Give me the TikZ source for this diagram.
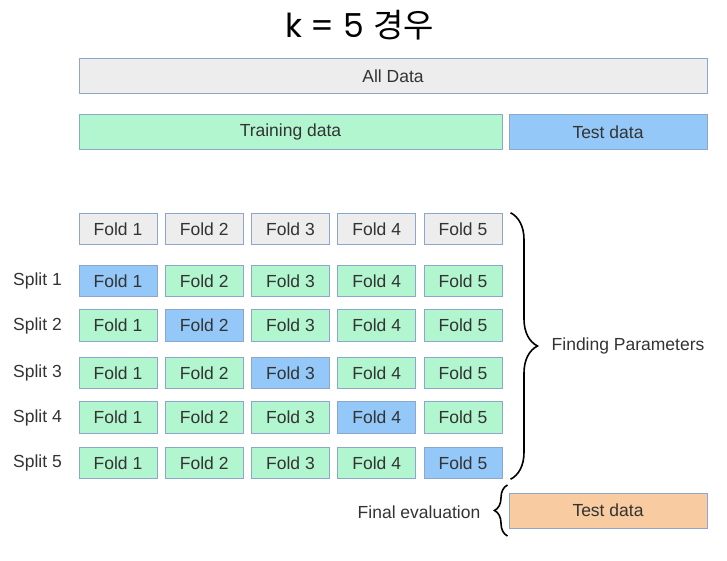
\documentclass[tikz,border=0pt]{standalone}
\usepackage{fontspec}
\setmainfont{Liberation Sans}
\newfontfamily\titlefont{Poppins}
\newfontfamily\krfont{Noto Sans CJK KR}
\usetikzlibrary{decorations.pathreplacing}
\definecolor{inkGrey}{RGB}{51,51,51}
\definecolor{edgeBlue}{RGB}{140,166,206}
\definecolor{boxGrey}{RGB}{237,237,237}
\definecolor{boxGreen}{RGB}{178,246,208}
\definecolor{boxBlue}{RGB}{148,200,248}
\definecolor{boxOrange}{RGB}{248,204,160}

\begin{document}
\begin{tikzpicture}[x=1pt,y=-1pt,
    font=\fontsize{17.5}{20}\selectfont,text=inkGrey,
    bar/.style={draw=edgeBlue,line width=1pt,minimum height=35pt,inner sep=0pt},
    fold/.style={draw=edgeBlue,line width=1pt,minimum width=78pt,minimum height=31.5pt,inner sep=0pt},
    lbl/.style={inner sep=0pt},
    curly/.style={decorate,line width=1.6pt,draw=black}]
    \useasboundingbox (0,0) rectangle (727,561);

    % heading
    \node[lbl,anchor=base,text=black,font=\fontsize{33}{40}\selectfont] (title) at (359.5,38)
      {\titlefont k = 5 \krfont 경우};

    % data split bars
    \node[bar,fill=boxGrey,minimum width=628pt] (alldata) at (393,76) {All Data};
    \node[bar,fill=boxGreen,minimum width=423pt] (train) at (290.5,132) {Training data};
    \node[bar,fill=boxBlue,minimum width=198pt] (test) at (608,132) {Test data};

    % fold headings
    \foreach \c in {1,...,5}
      \node[fold,fill=boxGrey] (f\c) at ({118+86.25*(\c-1)},229) {Fold \c};

    % one row per split, validation fold in blue
    \foreach \r/\y in {1/281,2/325.5,3/373,4/417.5,5/463} {
      \node[lbl,anchor=west] (split\r) at (13,\y) {Split \r};
      \foreach \c in {1,...,5} {
        \ifnum\c=\r \def\tone{boxBlue}\else \def\tone{boxGreen}\fi
        \node[fold,fill=\tone] (s\r f\c) at ({118+86.25*(\c-1)},\y) {Fold \c};
      }
    }

    % parameter search brace
    \draw[curly,decoration={brace,amplitude=27pt}]
      ([xshift=8pt]f5.north east) -- ([xshift=8pt]s5f5.south east)
      coordinate[pos=0.5] (mid);
    \node[lbl,anchor=west] (findpar) at ([xshift=41pt]mid) {Finding Parameters};

    % held-out evaluation
    \node[bar,fill=boxOrange,minimum width=198pt] (final) at (608,510.5) {Test data};
    \draw[curly,decoration={brace,amplitude=13pt}]
      ([xshift=-1pt,yshift=-7.5pt]final.south west) -- ([xshift=-1pt,yshift=7.5pt]final.north west)
      coordinate[pos=0.5] (fmid);
    \node[lbl,anchor=east] (finaleval) at ([xshift=-27pt,yshift=-2pt]fmid) {Final evaluation};
  \end{tikzpicture}
\end{document}
